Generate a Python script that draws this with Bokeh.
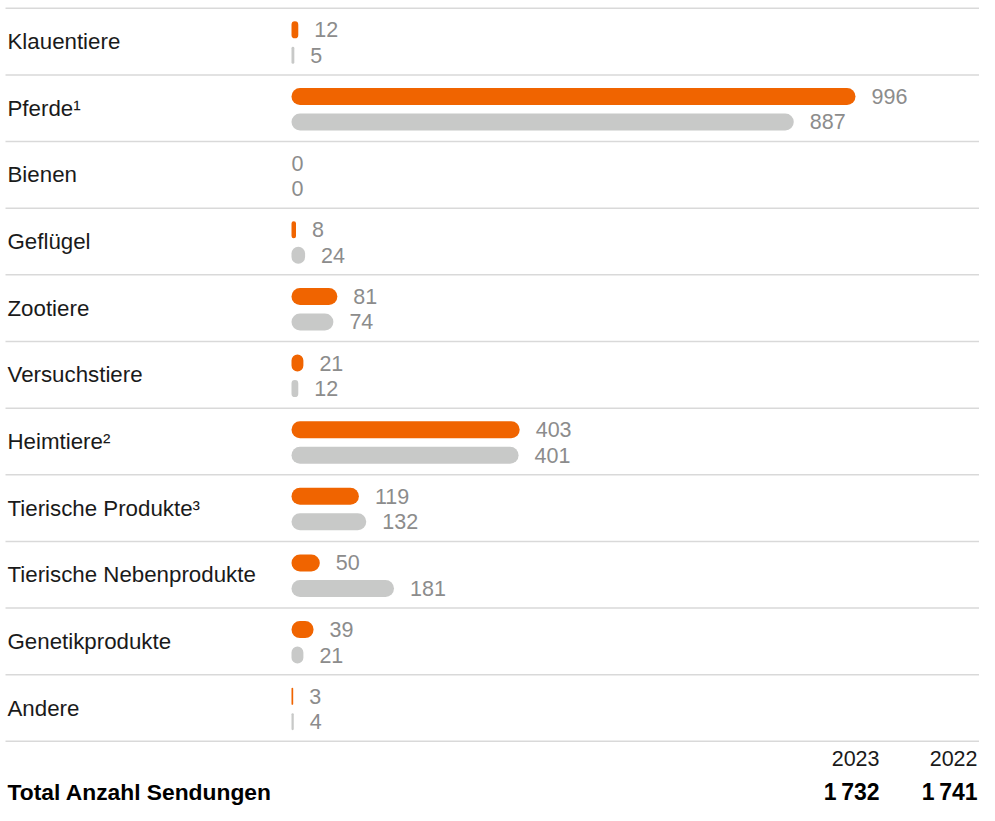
from bokeh.plotting import figure
from bokeh.models import Range1d, ColumnDataSource
from bokeh.core.properties import value
from bokeh.embed import file_html
from bokeh.resources import INLINE

# ---------------- data ----------------
categories = ["Klauentiere", "Pferde\u00b9", "Bienen", "Gefl\u00fcgel", "Zootiere",
              "Versuchstiere", "Heimtiere\u00b2", "Tierische Produkte\u00b3",
              "Tierische Nebenprodukte", "Genetikprodukte", "Andere"]
values_2023 = [12, 996, 0, 8, 81, 21, 403, 119, 50, 39, 3]
values_2022 = [5, 887, 0, 24, 74, 12, 401, 132, 181, 21, 4]
years = ["2023", "2022"]
totals = ["1\u2009732", "1\u2009741"]
total_label = "Total Anzahl Sendungen"

# ---------------- layout ----------------
W, H = 979, 805
BAR0_PX = 291          # plot px where value 0 sits
SCALE_PX = 564         # px for the max value
MAXV = max(values_2023 + values_2022)
k = SCALE_PX / MAXV
x_start = -BAR0_PX / k
x_end = x_start + W / k


def px2x(px):
    return x_start + px / k


S = 0.98
LINE0 = 7.8
ROW_H = 68 * S
n = len(categories)
line_y = [LINE0 + ROW_H * i for i in range(n + 1)]
row_top = line_y[:-1]

ORANGE = "#F06400"
GREY_BAR = "#C8C9C8"
GREY_TXT = "#8C8C8C"
DARK = "#1A1A1A"
LINE_C = "#D9D9D9"
FONT = value("Liberation Sans")

p = figure(width=W, height=H, x_range=Range1d(x_start, x_end), y_range=Range1d(H, 0),
           output_backend="svg", toolbar_location=None, min_border=0)
p.axis.visible = False
p.grid.visible = False
p.outline_line_color = None
p.background_fill_color = "white"
p.border_fill_color = "white"

# separators
p.segment(x0=[px2x(5)] * len(line_y), x1=[x_end] * len(line_y), y0=line_y, y1=line_y,
          line_color=LINE_C, line_width=1.5)

y23 = [t + 22 * S for t in row_top]
y22 = [t + 48 * S for t in row_top]

src23 = ColumnDataSource(dict(y=y23, right=values_2023))
src22 = ColumnDataSource(dict(y=y22, right=values_2022))
p.hbar(y="y", left=0, right="right", height=17, source=src23, fill_color=ORANGE,
       line_color=None, border_radius=9)
p.hbar(y="y", left=0, right="right", height=17, source=src22, fill_color=GREY_BAR,
       line_color=None, border_radius=9)

gap = 16 / k
lab23 = ColumnDataSource(dict(x=[v + gap if v > 0 else 0 for v in values_2023],
                              y=y23, t=[str(v) for v in values_2023]))
lab22 = ColumnDataSource(dict(x=[v + gap if v > 0 else 0 for v in values_2022],
                              y=y22, t=[str(v) for v in values_2022]))
for s in (lab23, lab22):
    p.text(x="x", y="y", text="t", source=s, text_color=GREY_TXT, text_font=FONT,
           text_font_size="21.5px", text_baseline="middle", text_align="left")

# category labels
cat_src = ColumnDataSource(dict(x=[px2x(7)] * n, y=[t + 34 * S for t in row_top], t=categories))
p.text(x="x", y="y", text="t", source=cat_src, text_color=DARK, text_font=FONT,
       text_font_size="22.3px", text_baseline="middle", text_align="left")

# footer
year_src = ColumnDataSource(dict(x=[px2x(879), px2x(977)], y=[line_y[-1] + 18 * S] * 2, t=years))
p.text(x="x", y="y", text="t", source=year_src, text_color=DARK, text_font=FONT,
       text_font_size="21.5px", text_baseline="middle", text_align="right")

tot_src = ColumnDataSource(dict(x=[px2x(879), px2x(977)], y=[line_y[-1] + 51] * 2, t=totals))
p.text(x="x", y="y", text="t", source=tot_src, text_color="#000000", text_font=FONT,
       text_font_size="23px", text_font_style="bold", text_baseline="middle",
       text_align="right")
p.text(x=[px2x(7)], y=[line_y[-1] + 51], text=[total_label], text_color="#000000",
       text_font=FONT, text_font_size="22.8px", text_font_style="bold",
       text_baseline="middle", text_align="left")

open("out.html", "w").write(file_html(p, INLINE))
